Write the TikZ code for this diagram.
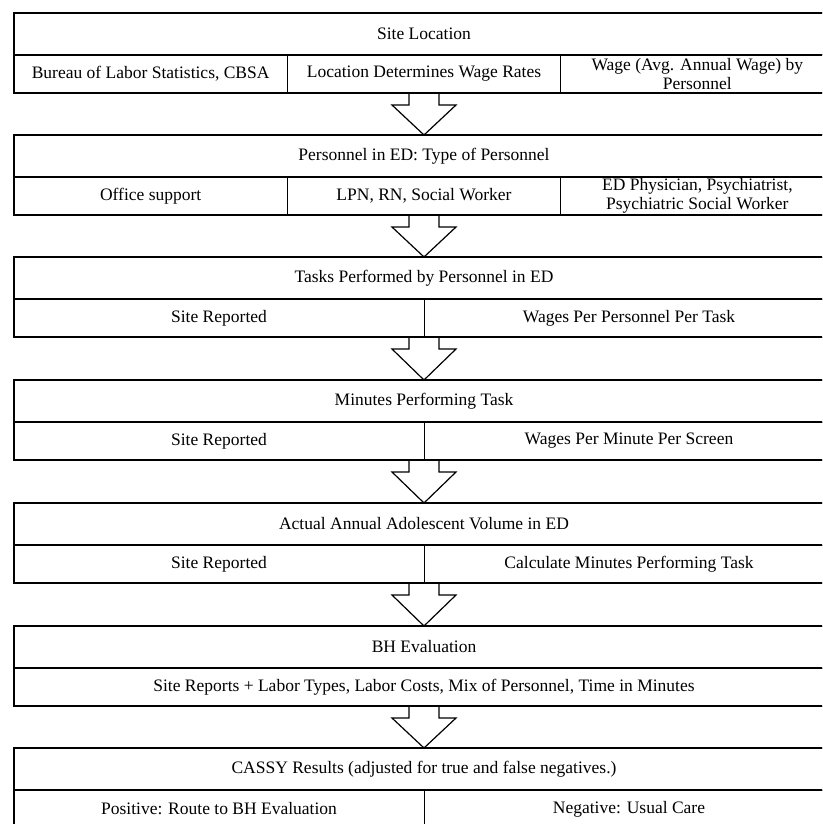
\documentclass[tikz,border=0pt]{standalone}
\usepackage{fontspec}
\setmainfont{Liberation Serif}
\usetikzlibrary{calc,backgrounds}
\begin{document}
\begin{tikzpicture}[x=1pt,y=-1pt,
  cellfont/.style={font=\fontsize{17.5}{18.5}\selectfont},
  cellbase/.style={draw, line width=1pt, inner sep=0pt, outer sep=0pt, anchor=north west, align=center, cellfont},
  topcell/.style={cellbase, minimum width=820pt, minimum height=42pt},
  botone/.style={cellbase, minimum width=820pt, minimum height=38pt},
  bottwo/.style={cellbase, minimum width=410pt, minimum height=38pt},
  botthree/.style={cellbase, minimum width=273.333pt, minimum height=38pt},
  edge/.style={line width=1.7pt, line join=miter},
  barrow/.style={draw, fill=white, line width=1.2pt, line join=miter}
]
\useasboundingbox (0,0) rectangle (822,824);
\clip (0,0) rectangle (822,824);

% Block 1
\node[topcell] (t1) at (14,13) {Site Location};
\node[botthree] (b1a) at (t1.south west) {Bureau of Labor Statistics, CBSA};
\node[botthree] (b1b) at (b1a.north east) {Location Determines Wage Rates};
\node[botthree] (b1c) at (b1b.north east) {Wage (Avg. Annual Wage) by\\Personnel};
\draw[edge] (t1.north west) rectangle (b1c.south east);
\draw[edge] (t1.south west) -- (t1.south east);

% Block 2
\node[topcell] (t2) at (14,135) {Personnel in ED: Type of Personnel};
\node[botthree] (b2a) at (t2.south west) {Office support};
\node[botthree] (b2b) at (b2a.north east) {LPN, RN, Social Worker};
\node[botthree] (b2c) at (b2b.north east) {ED Physician, Psychiatrist,\\Psychiatric Social Worker};
\draw[edge] (t2.north west) rectangle (b2c.south east);
\draw[edge] (t2.south west) -- (t2.south east);

% Block 3
\node[topcell] (t3) at (14,257) {Tasks Performed by Personnel in ED};
\node[bottwo] (b3a) at (t3.south west) {Site Reported};
\node[bottwo] (b3b) at (b3a.north east) {Wages Per Personnel Per Task};
\draw[edge] (t3.north west) rectangle (b3b.south east);
\draw[edge] (t3.south west) -- (t3.south east);

% Block 4
\node[topcell] (t4) at (14,380) {Minutes Performing Task};
\node[bottwo] (b4a) at (t4.south west) {Site Reported};
\node[bottwo] (b4b) at (b4a.north east) {Wages Per Minute Per Screen};
\draw[edge] (t4.north west) rectangle (b4b.south east);
\draw[edge] (t4.south west) -- (t4.south east);

% Block 5
\node[topcell] (t5) at (14,503) {Actual Annual Adolescent Volume in ED};
\node[bottwo] (b5a) at (t5.south west) {Site Reported};
\node[bottwo] (b5b) at (b5a.north east) {Calculate Minutes Performing Task};
\draw[edge] (t5.north west) rectangle (b5b.south east);
\draw[edge] (t5.south west) -- (t5.south east);

% Block 6
\node[topcell] (t6) at (14,626) {BH Evaluation};
\node[botone] (b6a) at (t6.south west) {Site Reports + Labor Types, Labor Costs, Mix of Personnel, Time in Minutes};
\draw[edge] (t6.north west) rectangle (b6a.south east);
\draw[edge] (t6.south west) -- (t6.south east);

% Block 7
\node[topcell] (t7) at (14,748) {CASSY Results (adjusted for true and false negatives.)};
\node[bottwo] (b7a) at (t7.south west) {Positive: Route to BH Evaluation};
\node[bottwo] (b7b) at (b7a.north east) {Negative: Usual Care};
\draw[edge] (t7.north west) rectangle (b7b.south east);
\draw[edge] (t7.south west) -- (t7.south east);

% bottom centre coordinates
\coordinate (s1) at (t1.center |- b1b.south);
\coordinate (s2) at (t2.center |- b2b.south);
\coordinate (s3) at (t3.center |- b3a.south);
\coordinate (s4) at (t4.center |- b4a.south);
\coordinate (s5) at (t5.center |- b5a.south);
\coordinate (s6) at (t6.center |- b6a.south);

\begin{scope}[on background layer]
\foreach \s/\t in {s1/t2, s2/t3, s3/t4, s4/t5, s5/t6, s6/t7}{
  \draw[barrow] ($(\s)+(-15,0)$) -- ++(0,12) -- ++(-17,0) -- (\t.north)
     -- ($(\s)+(32,12)$) -- ++(-17,0) -- ++(0,-12);
}
\end{scope}
\end{tikzpicture}
\end{document}
